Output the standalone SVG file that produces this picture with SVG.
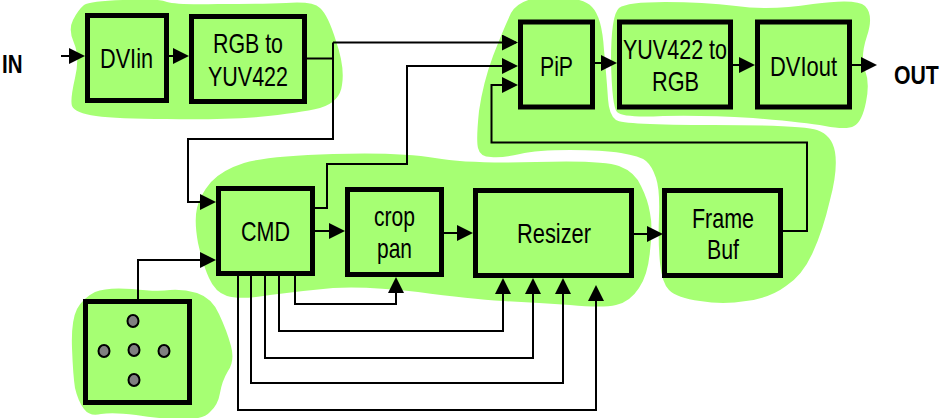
<svg xmlns="http://www.w3.org/2000/svg" width="942" height="418" viewBox="0 0 942 418">
<style>
.blob{fill:#a6ff73;stroke:none}
.box{fill:#a6ff73;stroke:#000;stroke-width:5}
.wire{fill:none;stroke:#000;stroke-width:2;marker-end:url(#head)}
.plain{fill:none;stroke:#000;stroke-width:2}
.dot{fill:#808080;stroke:#000;stroke-width:2}
text{font-family:"Liberation Sans",Arial,sans-serif;font-size:28px;fill:#000}
.io{font-weight:bold;font-size:25px}
</style>
<defs>
<marker id="head" markerUnits="userSpaceOnUse" markerWidth="16" markerHeight="16" refX="14" refY="8" orient="auto">
<path d="M0 0L16 8L0 16Z" fill="#000"/>
</marker>
</defs>
<g id="regions">
<path class="blob" d="M84 5Q90 1 123 0Q157 -2 167 2Q177 5 218 4Q260 4 286 3Q313 1 320 8Q328 15 336 41Q345 67 342 85Q340 102 320 108Q300 113 258 117Q217 120 167 119Q117 119 96 116Q75 113 72 106Q70 100 75 78Q80 57 74 43Q68 30 73 20Q78 10 84 5Z"/>
<path class="blob" d="M511 13Q520 -3 551 -3Q583 -3 592 7Q602 17 604 50Q607 83 608 99Q609 115 616 120Q623 125 713 125Q803 125 817 130Q832 135 835 152Q838 170 830 200Q823 230 813 252Q803 275 786 286Q770 298 746 301Q723 305 700 301Q677 298 669 290Q662 283 660 263Q658 243 659 216Q660 190 656 178Q652 166 646 161Q640 156 621 153Q603 150 570 150Q537 150 520 154Q503 158 491 157Q480 157 478 148Q476 140 479 111Q483 83 493 56Q503 30 511 13Z"/>
<path class="blob" d="M619 8Q627 2 665 2Q703 2 736 6Q770 11 813 4Q857 -2 865 6Q874 15 867 36Q860 57 865 70Q870 83 866 102Q862 122 854 126Q847 130 825 126Q803 122 753 118Q703 115 663 116Q623 118 617 112Q612 107 611 61Q611 15 619 8Z"/>
<path class="blob" d="M211 182Q222 170 244 163Q267 156 333 154Q400 152 435 158Q470 164 536 162Q603 160 619 166Q635 172 641 186Q648 200 650 213Q653 227 650 251Q648 275 639 288Q630 302 616 305Q603 308 570 305Q537 303 503 301Q470 299 418 292Q367 286 333 288Q300 291 270 295Q240 300 227 296Q215 292 209 278Q203 265 198 243Q194 221 197 208Q200 195 211 182Z"/>
<path class="blob" d="M72 348Q71 321 77 309Q83 298 95 292Q107 287 132 289Q157 292 170 290Q183 289 197 293Q212 298 219 314Q227 331 231 346Q235 361 228 371Q222 381 220 393Q218 405 210 412Q203 420 181 419Q160 419 136 415Q113 412 101 414Q90 417 84 409Q78 401 75 388Q73 375 72 348Z"/>
</g>
<g id="connectors">
<path class="wire" d="M61 56H83"/>
<path class="wire" d="M169 56H187"/>
<path class="plain" d="M307 58.500H333"/>
<path class="wire" d="M333 42.500H516"/>
<path class="wire" d="M333 42.500V139H188V202H214"/>
<path class="wire" d="M315 208H327V164H407V66H516"/>
<path class="wire" d="M783 231H807V142.500H491.500V85H516"/>
<path class="wire" d="M595 63H615"/>
<path class="wire" d="M733 65H753"/>
<path class="wire" d="M852 65H875"/>
<path class="wire" d="M315 231H343"/>
<path class="wire" d="M444 233H471"/>
<path class="wire" d="M634 234H661"/>
<path class="wire" d="M138 299V260H214"/>
<path class="wire" d="M295 276V304H396V279"/>
<path class="wire" d="M279 276V331H503V280"/>
<path class="wire" d="M265 276V358H533V280"/>
<path class="wire" d="M251 276V383H563V280"/>
<path class="wire" d="M238 276V410H596V287"/>
</g>
<g id="dviin"><rect class="box" x="87.500" y="15.500" width="79" height="85"/><text x="100" y="68" textLength="53" lengthAdjust="spacingAndGlyphs">DVIin</text></g>
<g id="rgb-to-yuv422"><rect class="box" x="191.500" y="16.500" width="113" height="85"/><text x="213" y="53" textLength="70" lengthAdjust="spacingAndGlyphs">RGB to</text><text x="208" y="86" textLength="80" lengthAdjust="spacingAndGlyphs">YUV422</text></g>
<g id="pip"><rect class="box" x="520.500" y="22" width="72" height="85"/><text x="540" y="76" textLength="33" lengthAdjust="spacingAndGlyphs">PiP</text></g>
<g id="yuv422-to-rgb"><rect class="box" x="619.500" y="22" width="111" height="85"/><text x="623" y="59" textLength="104" lengthAdjust="spacingAndGlyphs">YUV422 to</text><text x="652" y="91" textLength="47" lengthAdjust="spacingAndGlyphs">RGB</text></g>
<g id="dviout"><rect class="box" x="757.500" y="22" width="92" height="85"/><text x="770" y="76" textLength="67" lengthAdjust="spacingAndGlyphs">DVIout</text></g>
<g id="cmd"><rect class="box" x="218.500" y="188.500" width="94" height="85"/><text x="241" y="241" textLength="49" lengthAdjust="spacingAndGlyphs">CMD</text></g>
<g id="crop-pan"><rect class="box" x="347.500" y="189.500" width="94" height="85"/><text x="374" y="226" textLength="41" lengthAdjust="spacingAndGlyphs">crop</text><text x="377" y="258" textLength="35" lengthAdjust="spacingAndGlyphs">pan</text></g>
<g id="resizer"><rect class="box" x="475.500" y="190.500" width="156" height="85"/><text x="517" y="243" textLength="74" lengthAdjust="spacingAndGlyphs">Resizer</text></g>
<g id="frame-buf"><rect class="box" x="664.500" y="190.500" width="116" height="85"/><text x="692" y="228" textLength="62" lengthAdjust="spacingAndGlyphs">Frame</text><text x="707" y="259" textLength="32" lengthAdjust="spacingAndGlyphs">Buf</text></g>
<g id="keypad"><rect class="box" x="85.500" y="301.500" width="104" height="101"/>
<ellipse class="dot" cx="133" cy="321" rx="5.500" ry="6"/><ellipse class="dot" cx="104" cy="351" rx="5.500" ry="6"/><ellipse class="dot" cx="134" cy="350" rx="5.500" ry="6"/><ellipse class="dot" cx="164" cy="351" rx="5.500" ry="6"/><ellipse class="dot" cx="134" cy="380" rx="5.500" ry="6"/></g>
<g id="in-label"><text class="io" transform="translate(2 73) scale(.82 1)">IN</text></g>
<g id="out-label"><text class="io" transform="translate(894 84) scale(.85 1)">OUT</text></g>
</svg>
